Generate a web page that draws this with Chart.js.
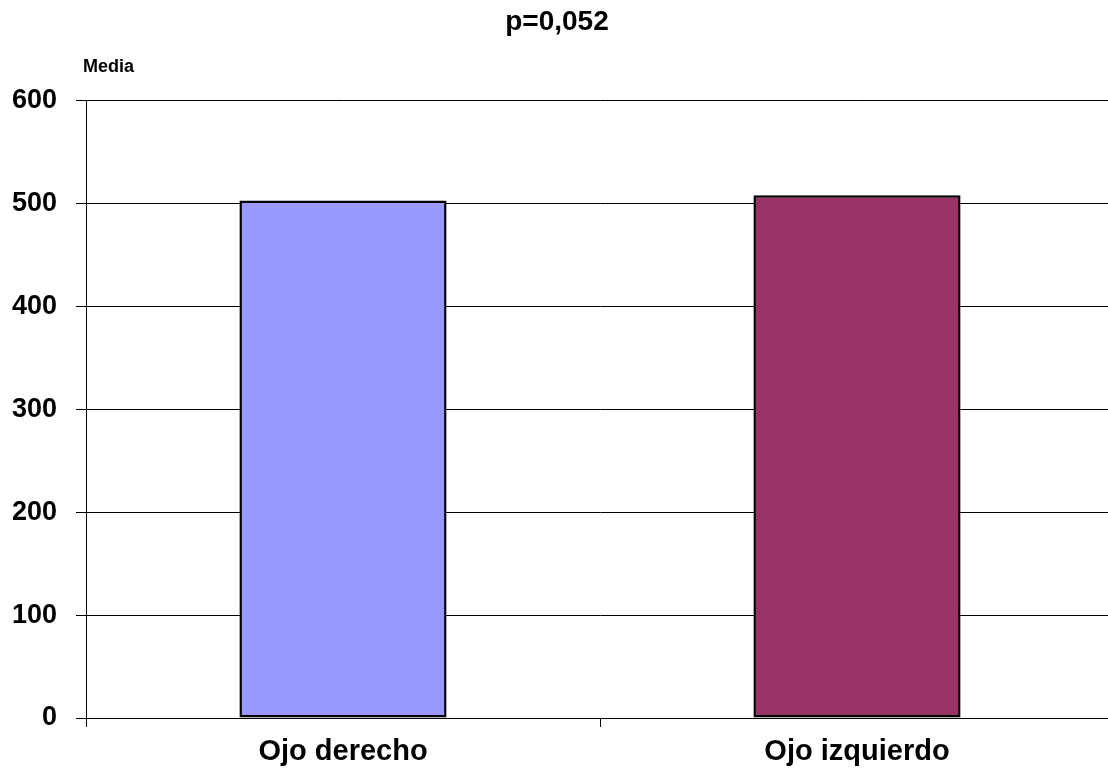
<!DOCTYPE html>
<html>
<head>
<meta charset="utf-8">
<script src="https://cdn.jsdelivr.net/npm/chart.js@4/dist/chart.umd.min.js"></script>
<style>
  html, body { margin: 0; padding: 0; background: #fff; overflow: hidden; }
  #wrap { width: 1108px; height: 772px; overflow: hidden; }
</style>
</head>
<body>
<div id="wrap"><canvas id="c" width="1114" height="772"></canvas></div>
<script>
// Mean value per eye
const categories = ['Ojo derecho', 'Ojo izquierdo'];
const means = [503, 508];
const barColors = ['#9999FF', '#993366'];
const yTicks = [0, 100, 200, 300, 400, 500, 600];
const titleText = 'p=0,052';
const yUnitLabel = 'Media';

const FONT = '"Liberation Sans", Arial, sans-serif';

// Small caption above the value axis
const unitLabelPlugin = {
  id: 'unitLabel',
  afterDraw(chart) {
    const ctx = chart.ctx;
    ctx.save();
    ctx.font = 'bold 18px ' + FONT;
    ctx.fillStyle = '#000';
    ctx.textAlign = 'left';
    ctx.textBaseline = 'middle';
    ctx.fillText(yUnitLabel, 83, 67);
    ctx.restore();
  }
};

new Chart(document.getElementById('c'), {
  type: 'bar',
  data: {
    labels: categories,
    datasets: [{
      data: means,
      backgroundColor: barColors,
      borderColor: '#000',
      borderWidth: 2.5,
      borderSkipped: false,
      categoryPercentage: 1.0,
      barPercentage: 0.403
    }]
  },
  options: {
    responsive: false,
    animation: false,
    layout: { padding: { left: 0, right: 0, top: 0, bottom: 0 } },
    plugins: {
      legend: { display: false },
      tooltip: { enabled: false },
      title: {
        display: true,
        text: titleText,
        color: '#000',
        font: { family: FONT, size: 28, weight: 'bold' },
        padding: { top: 5, bottom: 62 }
      }
    },
    scales: {
      x: {
        grid: {
          display: true,
          offset: true,
          drawOnChartArea: false,
          drawTicks: true,
          tickLength: 9,
          color: '#000'
        },
        border: { display: true, color: '#000', width: 1 },
        ticks: {
          color: '#000',
          font: { family: FONT, size: 29, weight: 'bold' },
          padding: 8,
          maxRotation: 0
        },
        afterFit(scale) { scale.height = 54; }
      },
      y: {
        min: 0,
        max: 600,
        afterBuildTicks(scale) { scale.ticks = yTicks.map(v => ({ value: v })); },
        grid: {
          color: '#000',
          lineWidth: 1,
          drawTicks: true,
          tickLength: 10
        },
        border: { display: true, color: '#000', width: 1 },
        ticks: {
          color: '#000',
          font: { family: FONT, size: 27, weight: 'bold' },
          padding: 19
        },
        afterFit(scale) { scale.width = 86; }
      }
    }
  },
  plugins: [unitLabelPlugin]
});
</script>
</body>
</html>
